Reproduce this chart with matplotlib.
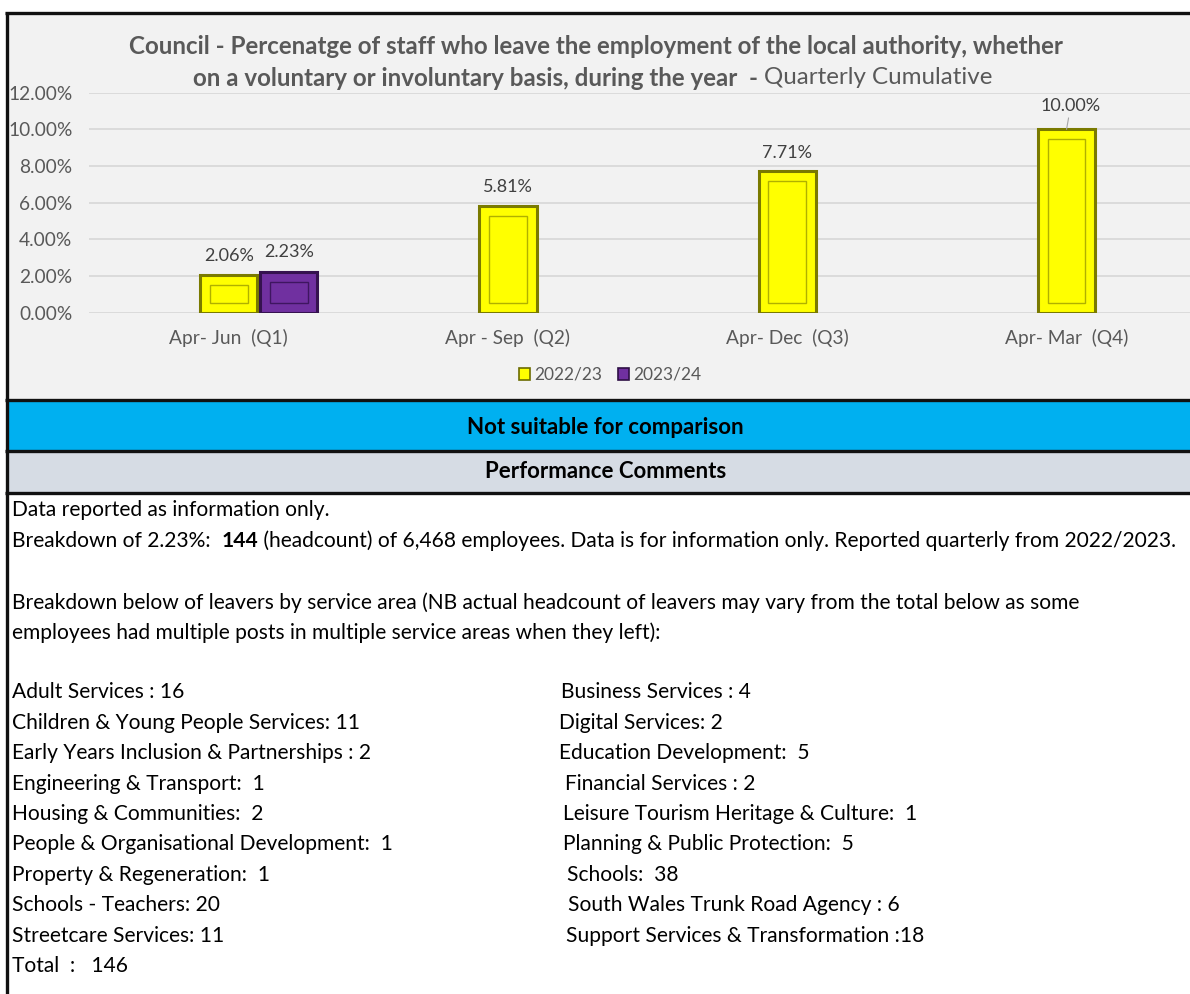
import matplotlib

matplotlib.use("Agg")
import matplotlib.pyplot as plt
from matplotlib.patches import Patch, Rectangle
from matplotlib.ticker import FuncFormatter


QUARTERS = ["Apr- Jun  (Q1)", "Apr - Sep  (Q2)", "Apr- Dec  (Q3)", "Apr- Mar  (Q4)"]
SERIES_NAMES = ["2022/23", "2023/24"]
VALUES_2022 = [0.0206, 0.0581, 0.0771, 0.1000]
VALUES_2023 = [0.0223]
Y_TICKS = [0.0, 0.02, 0.04, 0.06, 0.08, 0.10, 0.12]

TITLE_BOLD_1 = "Council - Percenatge of staff who leave the employment of the local authority, whether"
TITLE_BOLD_2 = "on a voluntary or involuntary basis, during the year  - "
TITLE_PLAIN_2 = "Quarterly Cumulative"

COMPARISON_NOTE = "Not suitable for comparison"
COMMENTS_HEADER = "Performance Comments"

INTRO_LINE = "Data reported as information only."
BREAKDOWN_PREFIX = "Breakdown of 2.23%:  "
HEADCOUNT = "144"
BREAKDOWN_SUFFIX = (" (headcount) of 6,468 employees. Data is for information only. "
                    "Reported quarterly from 2022/2023.")
NOTE_LINES = [
    "Breakdown below of leavers by service area (NB actual headcount of leavers may vary from the total below as some",
    "employees had multiple posts in multiple service areas when they left):",
]

LEFT_AREAS = [
    "Adult Services : 16",
    "Children & Young People Services: 11",
    "Early Years Inclusion & Partnerships : 2",
    "Engineering & Transport:  1",
    "Housing & Communities:  2",
    "People & Organisational Development:  1",
    "Property & Regeneration:  1",
    "Schools - Teachers: 20",
    "Streetcare Services: 11",
    "Total  :   146",
]
RIGHT_AREAS = [
    "Business Services : 4",
    "Digital Services: 2",
    "Education Development:  5",
    "Financial Services : 2",
    "Leisure Tourism Heritage & Culture:  1",
    "Planning & Public Protection:  5",
    "Schools:  38",
    "South Wales Trunk Road Agency : 6",
    "Support Services & Transformation :18",
]

FONT = ["Lato", "DejaVu Sans"]
W, H = 1190, 994


def fy(py):
    return 1 - py / H


def fx(px):
    return px / W


def draw_chart(fig):
    # plot area: left edge at 89 px, category spacing ~279 px, 0-12% between 313 and 93 px
    left, right = 89, 89 + 4 * 279.3
    bottom, top = 312.7, 92.7
    ax = fig.add_axes([fx(left), fy(bottom), fx(right - left), (bottom - top) / H])
    ax.set_facecolor("none")
    ax.set_xlim(-0.5, 3.5)
    ax.set_ylim(0, 0.12)

    width = 0.205
    x_yellow = list(range(len(VALUES_2022)))
    x_purple = [i + 0.215 for i in range(len(VALUES_2023))]
    inset_x, inset_y = 0.035, 0.0055

    ax.bar(x_yellow, VALUES_2022, width=width, color="#FFFF00",
           edgecolor="#7A7A00", linewidth=2.2, zorder=3)
    ax.bar(x_yellow, [v - 2 * inset_y for v in VALUES_2022], bottom=inset_y,
           width=width - 2 * inset_x, color="none", edgecolor="#B0B000",
           linewidth=1.0, zorder=4)
    ax.bar(x_purple, VALUES_2023, width=width, color="#7030A0",
           edgecolor="#35124F", linewidth=2.2, zorder=3)
    ax.bar(x_purple, [v - 2 * inset_y for v in VALUES_2023], bottom=inset_y,
           width=width - 2 * inset_x, color="none", edgecolor="#3E1660",
           linewidth=1.0, zorder=4)

    label_kw = dict(textcoords="offset points", ha="center", va="center",
                    fontsize=13, color="#404040", family=FONT)
    for i, (x, v) in enumerate(zip(x_yellow, VALUES_2022)):
        if i == len(VALUES_2022) - 1:
            # last label sits a bit higher with a leader line, as in the source
            ax.annotate(f"{v:.2%}", (x, v), xytext=(3, 17),
                        arrowprops=dict(arrowstyle="-", color="#A6A6A6", lw=0.8,
                                        shrinkA=1, shrinkB=0), **label_kw)
        else:
            ax.annotate(f"{v:.2%}", (x, v), xytext=(0, 13.5), **label_kw)
    for x, v in zip(x_purple, VALUES_2023):
        ax.annotate(f"{v:.2%}", (x, v), xytext=(0, 14), **label_kw)

    ax.set_yticks(Y_TICKS)
    ax.yaxis.set_major_formatter(FuncFormatter(lambda v, _: f"{v:.2%}"))
    ax.set_xticks(range(len(QUARTERS)))
    ax.set_xticklabels(QUARTERS)
    ax.tick_params(axis="both", length=0, labelsize=13.8, labelcolor="#595959")
    ax.tick_params(axis="y", pad=12)
    ax.tick_params(axis="x", pad=12)
    for label in ax.get_xticklabels() + ax.get_yticklabels():
        label.set_family(FONT)
    ax.grid(axis="y", color="#D9D9D9", linewidth=1.3, zorder=0)
    ax.set_axisbelow(True)
    for spine in ax.spines.values():
        spine.set_visible(False)

    handles = [
        Patch(facecolor="#FFFF00", edgecolor="#6B6B00", linewidth=1.2, label=SERIES_NAMES[0]),
        Patch(facecolor="#7030A0", edgecolor="#2E0F45", linewidth=1.2, label=SERIES_NAMES[1]),
    ]
    fig.legend(handles=handles, loc="center", bbox_to_anchor=(fx(610), fy(375)),
               ncol=2, frameon=False, handlelength=0.65, handleheight=0.65,
               handletextpad=0.25, columnspacing=0.9,
               prop={"family": FONT, "size": 12.5}, labelcolor="#595959")


def draw_frame(fig):
    bg = fig.add_axes([0, 0, 1, 1], zorder=-1)
    bg.set_xlim(0, W)
    bg.set_ylim(H, 0)
    bg.axis("off")

    bg.add_patch(Rectangle((6, 13), W, 387, facecolor="#F2F2F2", edgecolor="none"))
    bg.add_patch(Rectangle((6, 400), W, 51, facecolor="#00B0F0", edgecolor="none"))
    bg.add_patch(Rectangle((6, 451), W, 42, facecolor="#D6DCE4", edgecolor="none"))
    for y in [13, 400, 451, 493]:
        bg.plot([5, W], [y, y], color="#111111", linewidth=2.4, solid_capstyle="butt")
    bg.plot([6.5, 6.5], [12, H], color="#111111", linewidth=2.4, solid_capstyle="butt")

    title_kw = dict(fontsize=17.4, color="#595959", family=FONT, va="center")
    bg.text(596, 46, TITLE_BOLD_1, ha="center", fontweight="bold", **title_kw)
    t2 = bg.text(193, 78, TITLE_BOLD_2, ha="left", fontweight="bold", **title_kw)
    bg.annotate(TITLE_PLAIN_2, xy=(1, 0.5), xycoords=t2, ha="left", **title_kw)

    head_kw = dict(ha="center", va="center", fontsize=16, fontweight="bold",
                   family=FONT, color="#000000")
    bg.text(605, 427, COMPARISON_NOTE, **head_kw)
    bg.text(606, 472, COMMENTS_HEADER, **head_kw)

    body_kw = dict(fontsize=15.1, color="#000000", family=FONT, va="center")
    bg.text(12, 510, INTRO_LINE, ha="left", **body_kw)
    b1 = bg.text(12, 541, BREAKDOWN_PREFIX, ha="left", **body_kw)
    b2 = bg.annotate(HEADCOUNT, xy=(1, 0.5), xycoords=b1, ha="left",
                     fontweight="bold", **body_kw)
    bg.annotate(BREAKDOWN_SUFFIX, xy=(1, 0.5), xycoords=b2, ha="left", **body_kw)
    for i, line in enumerate(NOTE_LINES):
        bg.text(12, 602.5 + 30.2 * i, line, ha="left", **body_kw)

    row_step = 30.4
    for i, item in enumerate(LEFT_AREAS):
        bg.text(12, 692.5 + row_step * i, item, ha="left", **body_kw)
    right_x = [561, 559, 559, 565, 563, 563, 567, 568, 566]
    for i, item in enumerate(RIGHT_AREAS):
        bg.text(right_x[i], 692.5 + row_step * i, item, ha="left", **body_kw)


def main():
    fig = plt.figure(figsize=(W / 100, H / 100), dpi=100)
    fig.patch.set_facecolor("white")
    draw_frame(fig)
    draw_chart(fig)
    fig.savefig("out.png", dpi=100, facecolor="white")
    plt.close(fig)


if __name__ == "__main__":
    main()
